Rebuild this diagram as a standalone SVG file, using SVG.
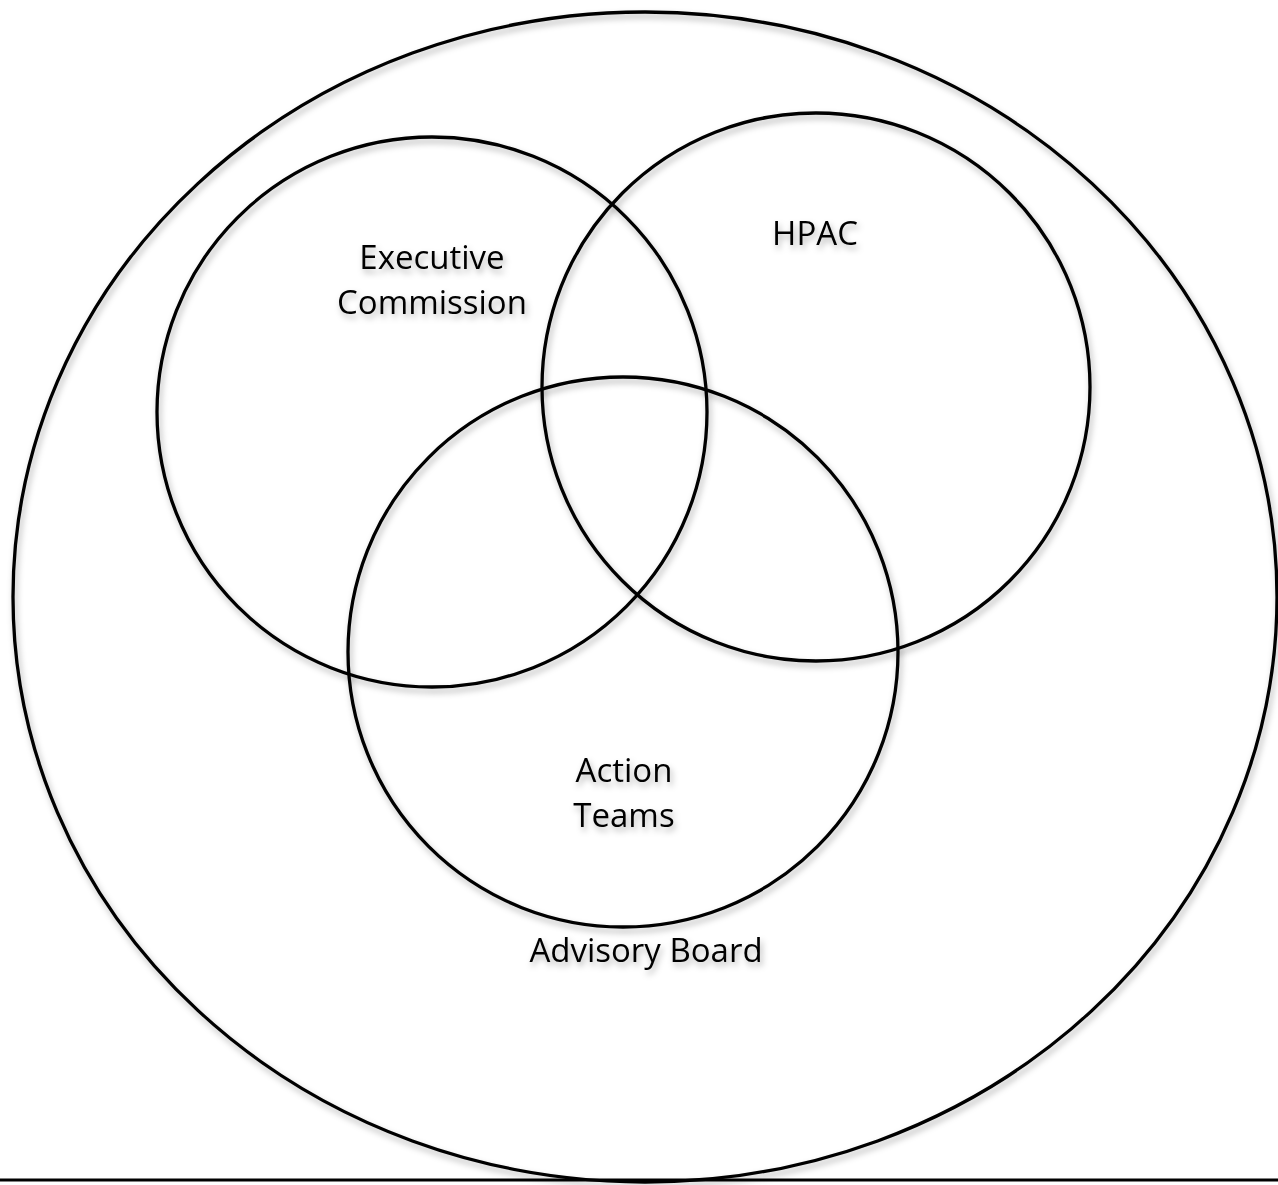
<svg xmlns="http://www.w3.org/2000/svg" width="1278" height="1185" viewBox="0 0 1278 1185">
  <defs>
    <filter id="shadow" x="-10%" y="-10%" width="120%" height="120%">
      <feDropShadow dx="2" dy="4" stdDeviation="3" flood-color="#000" flood-opacity="0.3"/>
    </filter>
    <filter id="tshadow" x="-20%" y="-30%" width="140%" height="160%">
      <feDropShadow dx="2" dy="4" stdDeviation="3" flood-color="#000" flood-opacity="0.3"/>
    </filter>
  </defs>
  <style>
    .ring { fill: none; stroke: #000; stroke-width: 3.3; }
    .lbl { font-family: "Open Sans", "Noto Sans", sans-serif; font-size: 33px; fill: #000; text-anchor: middle; }
  </style>
  <rect width="1278" height="1185" fill="#fff"/>
  <g id="advisory-board" filter="url(#shadow)">
    <ellipse class="ring" cx="645" cy="597" rx="632" ry="585"/>
  </g>
  <g id="executive-commission" filter="url(#shadow)">
    <circle class="ring" cx="432" cy="412" r="275"/>
  </g>
  <g id="hpac" filter="url(#shadow)">
    <circle class="ring" cx="816" cy="387" r="274"/>
  </g>
  <g id="action-teams" filter="url(#shadow)">
    <circle class="ring" cx="623" cy="652" r="275"/>
  </g>
  <g id="labels" filter="url(#tshadow)">
    <text class="lbl" x="432" y="269">Executive</text>
    <text class="lbl" x="432" y="314">Commission</text>
    <text class="lbl" x="815" y="245">HPAC</text>
    <text class="lbl" x="624" y="782">Action</text>
    <text class="lbl" x="624" y="827">Teams</text>
    <text class="lbl" x="646" y="962">Advisory Board</text>
  </g>
  <g id="connectors">
    <line x1="0" y1="1180" x2="1278" y2="1180" stroke="#000" stroke-width="3"/>
  </g>
</svg>
